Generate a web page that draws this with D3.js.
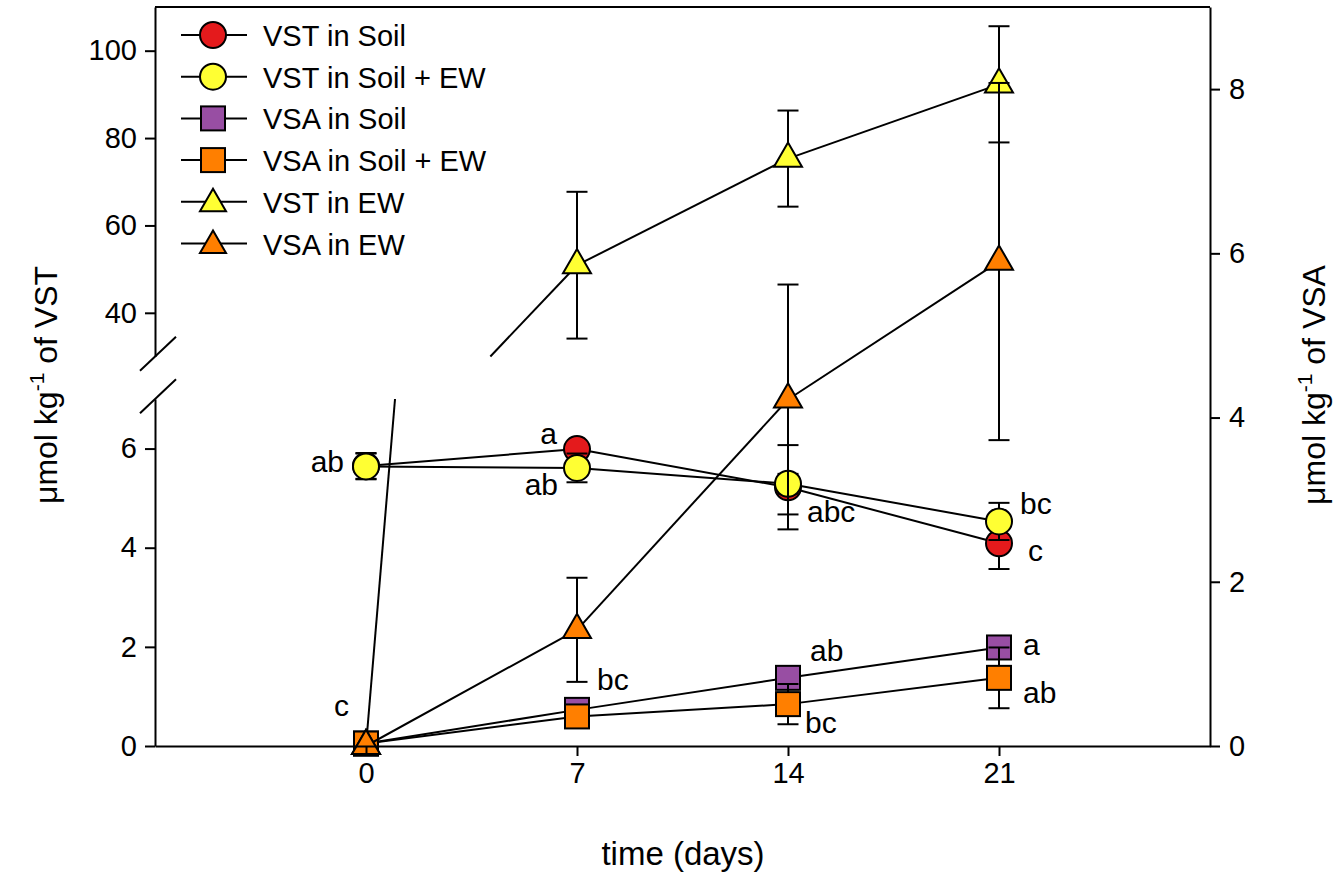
<!DOCTYPE html>
<html>
<head>
<meta charset="utf-8">
<script src="https://cdn.jsdelivr.net/npm/d3@7"></script>
<style>
  body { margin: 0; background: #fff; }
  svg text { font-family: "Liberation Sans", Arial, sans-serif; fill: #000; }
</style>
</head>
<body>
<div id="chart"></div>
<script>
// ---- data ----
const days = [0, 7, 14, 21];

const vstSoil      = [5.65, 5.99, 5.22, 4.09];
const vstSoilErr   = [0.26, 0.08, 0.85, 0.52];
const vstSoilEW    = [5.64, 5.61, 5.29, 4.53];
const vstSoilEWErr = [0.26, 0.29, 0.20, 0.375];
const vsaSoil      = [0.03, 0.44, 0.83, 1.20];
const vsaSoilErr   = [0.02, 0.05, 0.07, 0.08];
const vsaSoilEW    = [0.03, 0.36, 0.51, 0.83];
const vsaSoilEWErr = [0.02, 0.08, 0.245, 0.37];
const vstEW        = [0, 50.9, 75.3, 92.3];
const vstEWErr     = [0, 16.8, 11.0, 13.3];
const vsaEW        = [0, 1.415, 4.22, 5.90];
const vsaEWErr     = [0, 0.634, 1.40, 2.175];

// significance letters per series (by day)
const vstSoilLetters   = ["", "a", "abc", "c"];
const vstSoilEWLetters = ["ab", "ab", "", "bc"];
const vsaSoilLetters   = ["", "bc", "ab", "a"];
const vsaSoilEWLetters = ["c", "", "bc", "ab"];

const seriesNames = ["VST in Soil", "VST in Soil + EW", "VSA in Soil", "VSA in Soil + EW", "VST in EW", "VSA in EW"];

const leftLowTicks = [0, 2, 4, 6];
const leftHighTicks = [40, 60, 80, 100];
const rightTicks = [0, 2, 4, 6, 8];
const xTicks = [0, 7, 14, 21];

// ---- layout ----
const W = 1333, H = 876;
const svg = d3.select("#chart").append("svg").attr("width", W).attr("height", H);

const x = d3.scaleLinear().domain([-7, 28]).range([155, 1210]);
const yLow = d3.scaleLinear().domain([0, 7]).range([746, 399]);
const yHigh = d3.scaleLinear().domain([30, 110]).range([356.5, 7]);
const yRight = d3.scaleLinear().domain([0, 9]).range([746, 7]);

const leftSegs = [{scale: yLow, lo: 0, hi: 7}, {scale: yHigh, lo: 30, hi: 110}];
const rightSegs = [{scale: yRight, lo: 0, hi: 9}];

function mapY(segs, v) {
    for (const s of segs) if (v >= s.lo - 1e-9 && v <= s.hi + 1e-9) return s.scale(v);
    return null;
}

const colors = {red: "#e41a1c", yellow: "#ffff33", purple: "#984ea3", orange: "#ff7f00"};

const series = [
    {name: seriesNames[0], v: vstSoil, e: vstSoilErr, segs: leftSegs, shape: "circle", fill: colors.red, letters: vstSoilLetters},
    {name: seriesNames[1], v: vstSoilEW, e: vstSoilEWErr, segs: leftSegs, shape: "circle", fill: colors.yellow, letters: vstSoilEWLetters},
    {name: seriesNames[2], v: vsaSoil, e: vsaSoilErr, segs: rightSegs, shape: "square", fill: colors.purple, letters: vsaSoilLetters},
    {name: seriesNames[3], v: vsaSoilEW, e: vsaSoilEWErr, segs: rightSegs, shape: "square", fill: colors.orange, letters: vsaSoilEWLetters},
    {name: seriesNames[4], v: vstEW, e: vstEWErr, segs: leftSegs, shape: "triangle", fill: colors.yellow, letters: null},
    {name: seriesNames[5], v: vsaEW, e: vsaEWErr, segs: rightSegs, shape: "triangle", fill: colors.orange, letters: null}
];

// label placement (pixel offsets from the point), keyed "series,day"
const letterOffsets = {
    "0,1": [-20, -5, "end"], "0,2": [19, 35, "start"], "0,3": [29, 18, "start"],
    "1,0": [-22, 6, "end"], "1,1": [-19, 27, "end"], "1,3": [21, -7, "start"],
    "2,1": [20, -20, "start"], "2,2": [22, -17, "start"], "2,3": [24, 8, "start"],
    "3,0": [-17, -28, "end"], "3,2": [17, 29, "start"], "3,3": [24, 25, "start"]
};

function drawShape(g, shape, cx, cy, fill, scale) {
    scale = scale || 1;
    if (shape === "circle") {
        g.append("circle").attr("cx", cx).attr("cy", cy).attr("r", 13 * scale)
            .attr("fill", fill).attr("stroke", "#000").attr("stroke-width", 2);
    } else if (shape === "square") {
        const s = 24 * scale;
        g.append("rect").attr("x", cx - s / 2).attr("y", cy - s / 2).attr("width", s).attr("height", s)
            .attr("fill", fill).attr("stroke", "#000").attr("stroke-width", 2);
    } else {
        const side = 28 * scale, h = side * Math.sqrt(3) / 2;
        const pts = [[cx, cy - 2 * h / 3], [cx - side / 2, cy + h / 3], [cx + side / 2, cy + h / 3]];
        g.append("path").attr("d", "M" + pts.join("L") + "Z")
            .attr("fill", fill).attr("stroke", "#000").attr("stroke-width", 2).attr("stroke-linejoin", "miter");
    }
}

// ---- series ----
const plot = svg.append("g");
const line = d3.line();

series.forEach(function(s, si) {
    const g = plot.append("g");
    // lines, split across the broken axis in data space
    for (let i = 0; i < days.length - 1; i++) {
        const d0 = days[i], d1 = days[i + 1], v0 = s.v[i], v1 = s.v[i + 1];
        s.segs.forEach(function(seg) {
            let ta, tb;
            if (v0 === v1) {
                if (v0 < seg.lo || v0 > seg.hi) return;
                ta = 0; tb = 1;
            } else {
                const tl = (seg.lo - v0) / (v1 - v0), th = (seg.hi - v0) / (v1 - v0);
                ta = Math.max(0, Math.min(tl, th));
                tb = Math.min(1, Math.max(tl, th));
                if (ta >= tb) return;
            }
            const p = [ta, tb].map(t => [x(d0 + t * (d1 - d0)), seg.scale(v0 + t * (v1 - v0))]);
            g.append("path").attr("d", line(p)).attr("fill", "none")
                .attr("stroke", "#000").attr("stroke-width", 2);
        });
    }
    // error bars
    days.forEach(function(d, i) {
        if (!s.e[i]) return;
        const cx = x(d);
        const yt = mapY(s.segs, s.v[i] + s.e[i]), yb = mapY(s.segs, Math.max(s.v[i] - s.e[i], 0));
        g.append("line").attr("x1", cx).attr("x2", cx).attr("y1", yt).attr("y2", yb)
            .attr("stroke", "#000").attr("stroke-width", 2);
        [yt, yb].forEach(function(yy) {
            g.append("line").attr("x1", cx - 10.5).attr("x2", cx + 10.5).attr("y1", yy).attr("y2", yy)
                .attr("stroke", "#000").attr("stroke-width", 2);
        });
    });
    // markers
    days.forEach(function(d, i) {
        drawShape(g, s.shape, x(d), mapY(s.segs, s.v[i]), s.fill);
    });
});

// letters
series.forEach(function(s, si) {
    if (!s.letters) return;
    s.letters.forEach(function(t, i) {
        if (!t) return;
        const off = letterOffsets[si + "," + i];
        svg.append("text").attr("x", x(days[i]) + off[0]).attr("y", mapY(s.segs, s.v[i]) + off[1])
            .attr("text-anchor", off[2]).attr("font-size", 30).text(t);
    });
});

// ---- axes ----
function styleAxis(g) {
    g.select(".domain").attr("stroke-width", 2);
    g.selectAll(".tick line").attr("stroke-width", 2);
    g.selectAll(".tick text").attr("font-size", 29).attr("font-family", "Liberation Sans, Arial, sans-serif");
}

const fmt = d3.format("d");
svg.append("g").attr("transform", "translate(" + x(-7) + ",0)")
    .call(d3.axisLeft(yLow).tickValues(leftLowTicks).tickFormat(fmt).tickSize(10).tickSizeOuter(0).tickPadding(8))
    .call(styleAxis);
svg.append("g").attr("transform", "translate(" + x(-7) + ",0)")
    .call(d3.axisLeft(yHigh).tickValues(leftHighTicks).tickFormat(fmt).tickSize(10).tickSizeOuter(0).tickPadding(8))
    .call(styleAxis);
svg.append("g").attr("transform", "translate(" + x(28) + ",0)")
    .call(d3.axisRight(yRight).tickValues(rightTicks).tickFormat(fmt).tickSize(10).tickSizeOuter(0).tickPadding(9))
    .call(styleAxis);
svg.append("g").attr("transform", "translate(0," + yLow(0) + ")")
    .call(d3.axisBottom(x).tickValues(xTicks).tickFormat(fmt).tickSize(10).tickSizeOuter(0).tickPadding(6))
    .call(styleAxis);

// top frame line
svg.append("line").attr("x1", x(-7)).attr("x2", x(28)).attr("y1", yRight(9)).attr("y2", yRight(9))
    .attr("stroke", "#000").attr("stroke-width", 2);

// axis break marks
[yHigh(30), yLow(7)].forEach(function(yy) {
    svg.append("line").attr("x1", x(-7) - 15).attr("y1", yy + 14.2).attr("x2", x(-7) + 21).attr("y2", yy - 19.8)
        .attr("stroke", "#000").attr("stroke-width", 2);
});

// ---- titles ----
svg.append("text").attr("x", 683).attr("y", 865).attr("text-anchor", "middle")
    .attr("font-size", 33).text("time (days)");

function yTitle(cx, label) {
    const t = svg.append("text").attr("transform", "translate(" + cx + ",385) rotate(-90)")
        .attr("text-anchor", "middle").attr("font-size", 32);
    t.append("tspan").text("μmol kg");
    t.append("tspan").attr("font-size", 21).attr("dy", -13).text("-1");
    t.append("tspan").attr("dy", 13).text(" of " + label);
}
yTitle(57, "VST");
yTitle(1325, "VSA");

// ---- legend ----
const legend = svg.append("g");
series.forEach(function(s, i) {
    const cy = 35 + i * 41.7;
    legend.append("line").attr("x1", 181).attr("x2", 247).attr("y1", cy).attr("y2", cy)
        .attr("stroke", "#000").attr("stroke-width", 2);
    drawShape(legend, s.shape, 213, cy + (s.shape === "triangle" ? 2 : 0), s.fill, s.shape === "triangle" ? 0.93 : 1);
    legend.append("text").attr("x", 263).attr("y", cy + 11).attr("font-size", 29).text(s.name);
});
</script>
</body>
</html>
